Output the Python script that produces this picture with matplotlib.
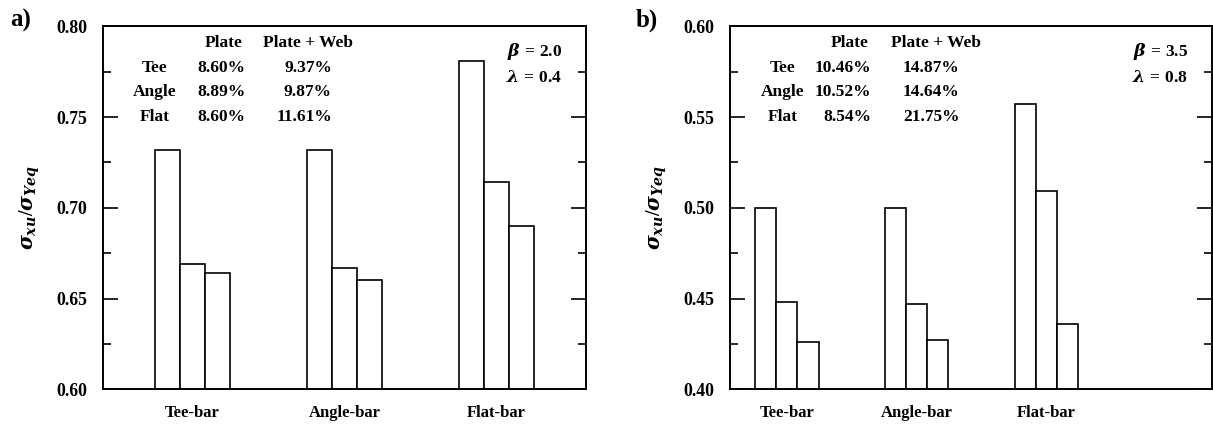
import matplotlib
matplotlib.use("Agg")
import matplotlib.pyplot as plt
import numpy as np
from matplotlib.ticker import MultipleLocator, FormatStrFormatter

plt.rcParams["font.family"] = ["Liberation Serif", "DejaVu Serif"]
plt.rcParams["font.weight"] = "bold"
plt.rcParams["mathtext.fontset"] = "custom"
plt.rcParams["mathtext.it"] = "DejaVu Serif:italic:bold"
plt.rcParams["mathtext.rm"] = "Liberation Serif:bold"
plt.rcParams["mathtext.bf"] = "Liberation Serif:bold"

# Data
categories = ["Tee-bar", "Angle-bar", "Flat-bar"]

ref_a = [0.732, 0.732, 0.781]
plate_a = [0.669, 0.667, 0.714]
plate_web_a = [0.664, 0.660, 0.690]

ref_b = [0.500, 0.500, 0.557]
plate_b = [0.448, 0.447, 0.509]
plate_web_b = [0.426, 0.427, 0.436]

row_names = ["Tee", "Angle", "Flat"]
plate_pct_a = ["8.60%", "8.89%", "8.60%"]
plate_web_pct_a = ["9.37%", "9.87%", "11.61%"]
plate_pct_b = ["10.46%", "10.52%", "8.54%"]
plate_web_pct_b = ["14.87%", "14.64%", "21.75%"]

W, H = 1213, 426
fig = plt.figure(figsize=(W / 100, H / 100), dpi=100)


def fx(x):
    return x / W


def fy(y):
    return 1 - y / H


def panel(rect, series, ylim, width, xlim):
    ax = fig.add_axes(rect)
    x = np.arange(len(categories))
    for k, vals in enumerate(series):
        ax.bar(x + (k - 1) * width, vals, width=width, bottom=0,
               facecolor="white", edgecolor="black", linewidth=1.2, zorder=2)
    ax.set_ylim(*ylim)
    ax.set_xlim(*xlim)
    ax.set_xticks(x)
    ax.set_xticklabels(categories, fontsize=12, fontweight="bold")
    ax.yaxis.set_major_locator(MultipleLocator(0.05))
    ax.yaxis.set_minor_locator(MultipleLocator(0.025))
    ax.yaxis.set_major_formatter(FormatStrFormatter("%.2f"))
    ax.tick_params(axis="y", which="major", direction="in", length=11, width=1.2,
                   right=True, labelsize=12.8, pad=11)
    ax.tick_params(axis="y", which="minor", direction="in", length=6, width=1.2,
                   right=True)
    ax.tick_params(axis="x", length=0, pad=11)
    for s in ax.spines.values():
        s.set_linewidth(1.4)
    ax.set_ylabel(r"$\sigma_{xu}/\sigma_{Yeq}$", fontsize=14.5, labelpad=10.5)
    return ax


ax_a = panel([fx(103), 1 - 389.3 / H, 483 / W, 363 / H],
             [ref_a, plate_a, plate_web_a], (0.60, 0.80), 0.1645, (-0.589, 2.589))
ax_b = panel([fx(730), 1 - 389.3 / H, 482 / W, 363 / H],
             [ref_b, plate_b, plate_web_b], (0.40, 0.60), 0.162, (-0.439, 3.275))

FS = 12.5


def table(x0, plate_c, web_c, plate_vals, web_vals, beta_x, beta, lam):
    ys = [67.7, 92.3, 117.3]
    fig.text(fx(plate_c), fy(43.3), "Plate", ha="center", va="center", fontsize=FS)
    fig.text(fx(web_c), fy(43.3), "Plate + Web", ha="center", va="center", fontsize=FS)
    for name, pv, wv, y in zip(row_names, plate_vals, web_vals, ys):
        fig.text(fx(x0), fy(y), name, ha="center", va="center", fontsize=FS)
        fig.text(fx(plate_c + 22), fy(y), pv, ha="right", va="center", fontsize=FS)
        fig.text(fx(web_c + 24), fy(y), wv, ha="right", va="center", fontsize=FS)
    fig.text(fx(beta_x), fy(51.5), r"$\beta\;$=$\;$" + beta, ha="right", va="center",
             fontsize=FS)
    fig.text(fx(beta_x), fy(77.5), r"$\lambda\;$=$\;$" + lam, ha="right", va="center",
             fontsize=FS)


table(155, 223.5, 308, plate_pct_a, plate_web_pct_a, 562, "2.0", "0.4")
table(782.5, 849.5, 935.5, plate_pct_b, plate_web_pct_b, 1188.5, "3.5", "0.8")

fig.text(fx(10), fy(20), "a)", ha="left", va="center", fontsize=18)
fig.text(fx(636), fy(20), "b)", ha="left", va="center", fontsize=18)

fig.savefig("out.png", dpi=100)
